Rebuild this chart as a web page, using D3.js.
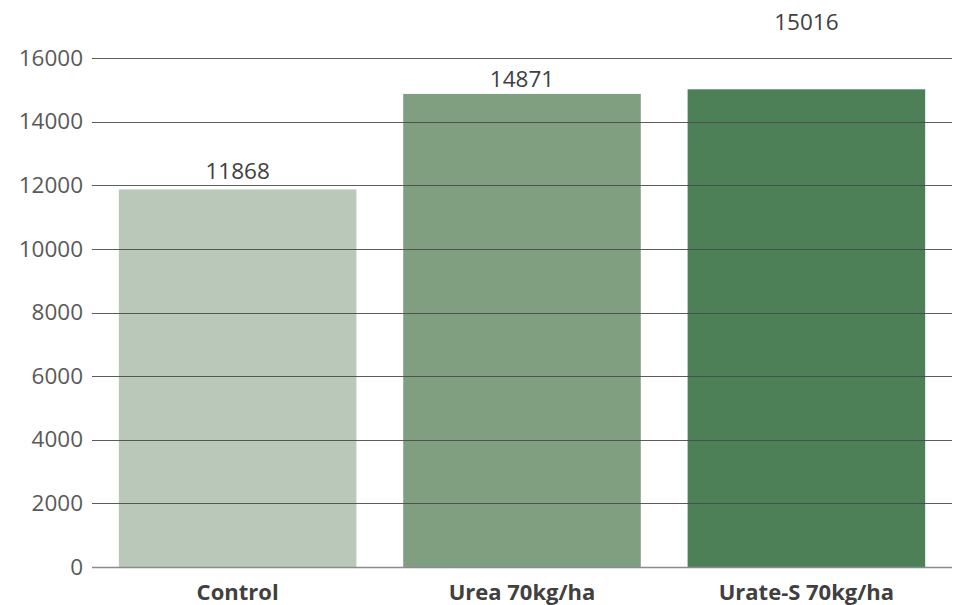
<!DOCTYPE html>
<html>
<head>
<meta charset="utf-8">
<script src="https://cdn.jsdelivr.net/npm/d3@7"></script>
<style>
  html, body { margin: 0; padding: 0; background: #fff; }
  svg { display: block; font-family: "Open Sans", "Noto Sans", sans-serif; }
  svg text { font-family: "Open Sans", "Noto Sans", sans-serif; }
</style>
</head>
<body>
<svg id="chart" width="957" height="605"></svg>
<script>
const categories = ["Control", "Urea 70kg/ha", "Urate-S 70kg/ha"];
const values = [11868, 14871, 15016];
const colors = ["#b9c8b9", "#7f9f80", "#4d8057"];
const tickValues = [0, 2000, 4000, 6000, 8000, 10000, 12000, 14000, 16000];

(function () {
const svg = d3.select("#chart");
const mLeft = 92, mRight = 952, mTop = 58, mBottom = 567;
const FONT = '"Open Sans", "Noto Sans", sans-serif';

const x = d3.scaleBand().domain(categories).range([mLeft, mRight])
  .paddingInner(0.1646).paddingOuter(0.0943);
const y = d3.scaleLinear().domain([0, 16000]).range([mBottom, mTop]);

// bars
svg.append("g").selectAll("rect").data(values).join("rect")
  .attr("x", (d, i) => x(categories[i]))
  .attr("width", x.bandwidth())
  .attr("y", d => y(d))
  .attr("height", d => y(0) - y(d))
  .attr("fill", (d, i) => colors[i]);

// y tick labels
const yAxis = d3.axisLeft(y).tickValues(tickValues).tickSize(0).tickPadding(9).tickFormat(d3.format("d"));
const gy = svg.append("g").attr("transform", `translate(${mLeft},0)`).call(yAxis)
  .attr("font-family", FONT);
gy.select(".domain").remove();
gy.selectAll("text").attr("fill", "#595959").style("font-size", "22.5px");

// gridlines drawn over bars
svg.append("g").selectAll("line").data(tickValues).join("line")
  .attr("x1", mLeft).attr("x2", mRight)
  .attr("y1", d => Math.round(y(d)) + 0.5).attr("y2", d => Math.round(y(d)) + 0.5)
  .attr("stroke", d => d === 0 ? "#8c8c8c" : "#4a4a4a")
  .attr("stroke-opacity", d => d === 0 ? 1 : 0.9)
  .attr("stroke-width", d => d === 0 ? 1.5 : 1);

// category labels
const xAxis = d3.axisBottom(x).tickSize(0).tickPadding(17);
const gx = svg.append("g").attr("transform", `translate(0,${mBottom})`).call(xAxis)
  .attr("font-family", FONT);
gx.select(".domain").remove();
gx.selectAll("text").attr("fill", "#404040").style("font-size", "22px").style("font-weight", "bold");

// value labels
const labelOffsets = [10, 7, 59];
svg.append("g").attr("font-family", FONT).selectAll("text").data(values).join("text")
  .attr("x", (d, i) => x(categories[i]) + x.bandwidth() / 2)
  .attr("y", (d, i) => y(d) - labelOffsets[i])
  .attr("text-anchor", "middle")
  .attr("fill", "#404040")
  .style("font-size", "22.5px")
  .text(d => d);
})();
</script>
</body>
</html>
